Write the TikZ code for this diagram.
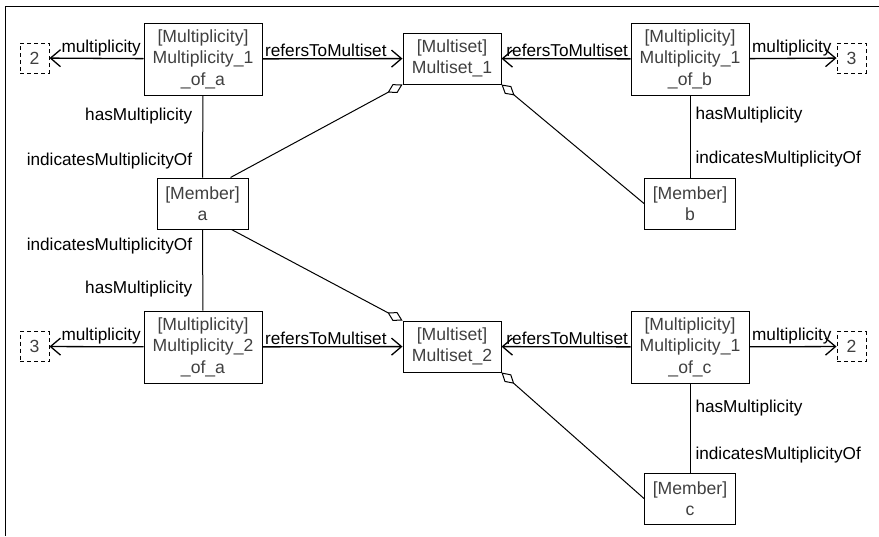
\documentclass[tikz,border=0pt]{standalone}
\usepackage{fontspec}
\setmainfont{Liberation Sans}
\usetikzlibrary{arrows.meta}
\tikzset{
  obj/.style={draw, line width=1pt, text=black!75, align=center, inner sep=0pt,
    font=\fontsize{17.6}{21.5}\selectfont},
  multbox/.style={obj, minimum width=118pt, minimum height=72pt},
  memberbox/.style={obj, minimum width=91pt, minimum height=51pt},
  setbox/.style={obj, minimum width=98pt, minimum height=51pt},
  valbox/.style={obj, dash pattern=on 4pt off 3pt, minimum width=29pt, minimum height=30pt},
  link/.style={line width=1.3pt, -{Straight Barb[length=10pt,width=17pt]}},
  aggr/.style={line width=1pt, {Diamond[open,length=17pt,width=10pt]}-},
  plain/.style={line width=1pt},
  lbl/.style={font=\fontsize{17.2}{20}\selectfont, inner sep=2pt},
}
\begin{document}
\begin{tikzpicture}[x=1pt,y=-1pt]
\useasboundingbox (0,0) rectangle (879,536);
\draw[line width=1pt] (879,6) -- (5,6) -- (5,536);

\node[multbox] (m1a) at (203,59) {[Multiplicity]\\Multiplicity\_1\\\_of\_a};
\node[multbox] (m1b) at (690,59) {[Multiplicity]\\Multiplicity\_1\\\_of\_b};
\node[multbox] (m2a) at (203,347) {[Multiplicity]\\Multiplicity\_2\\\_of\_a};
\node[multbox] (m1c) at (690,347) {[Multiplicity]\\Multiplicity\_1\\\_of\_c};
\node[setbox] (ms1) at (452,58.5) {[Multiset]\\Multiset\_1};
\node[setbox] (ms2) at (452,346.5) {[Multiset]\\Multiset\_2};
\node[memberbox] (ma) at (202.5,203.5) {[Member]\\a};
\node[memberbox] (mb) at (690,203.5) {[Member]\\b};
\node[memberbox] (mc) at (690,498.5) {[Member]\\c};
\node[valbox] (v1a) at (34.5,58) {2};
\node[valbox] (v1b) at (851.5,58) {3};
\node[valbox] (v2a) at (34.5,346.5) {3};
\node[valbox] (v1c) at (851.5,346.5) {2};

\draw[link] (m1a) -- (v1a) node[lbl,pos=0,anchor=south east]{multiplicity};
\draw[link] (m1a) -- (ms1) node[lbl,pos=0,anchor=south west]{refersToMultiset};
\draw[link] (m1b) -- (ms1) node[lbl,pos=0,anchor=south east]{refersToMultiset};
\draw[link] (m1b) -- (v1b) node[lbl,pos=0,anchor=south west]{multiplicity};
\draw[link] (m2a) -- (v2a) node[lbl,pos=0,anchor=south east]{multiplicity};
\draw[link] (m2a) -- (ms2) node[lbl,pos=0,anchor=south west]{refersToMultiset};
\draw[link] (m1c) -- (ms2) node[lbl,pos=0,anchor=south east]{refersToMultiset};
\draw[link] (m1c) -- (v1c) node[lbl,pos=0,anchor=south west]{multiplicity};

\draw[plain] (m1a) -- (ma)
  node[lbl,pos=.25,left=8pt]{hasMultiplicity}
  node[lbl,pos=.8,left=8pt]{indicatesMultiplicityOf};
\draw[plain] (ma) -- (m2a)
  node[lbl,pos=.2,left=8pt]{indicatesMultiplicityOf}
  node[lbl,pos=.74,left=8pt]{hasMultiplicity};
\draw[plain] (m1b) -- (mb)
  node[lbl,pos=.24,right=3pt]{hasMultiplicity}
  node[lbl,pos=.78,right=3pt]{indicatesMultiplicityOf};
\draw[plain] (m1c) -- (mc)
  node[lbl,pos=.28,right=3pt]{hasMultiplicity}
  node[lbl,pos=.8,right=3pt]{indicatesMultiplicityOf};

\draw[aggr] (ms1.south west) -- ([xshift=28pt]ma.north);
\draw[aggr] (ms1.south east) -- (mb.west);
\draw[aggr] (ms2.north west) -- ([xshift=29pt]ma.south);
\draw[aggr] (ms2.south east) -- (mc.west);
\end{tikzpicture}
\end{document}
